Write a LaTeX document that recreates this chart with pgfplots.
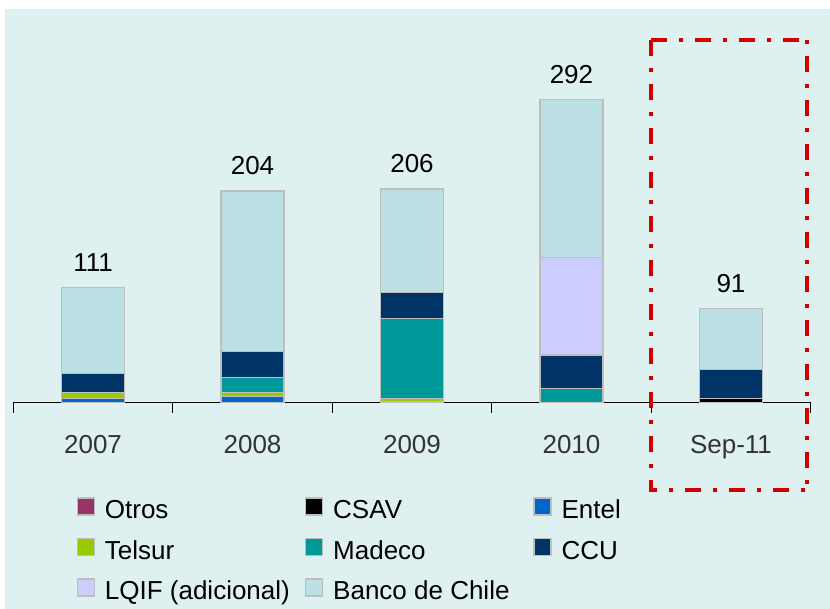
\documentclass[border=0pt]{standalone}
\usepackage{fontspec}
\setmainfont{Liberation Sans}
\usepackage{pgfplots}
\usepackage{pgfplotstable}
\pgfplotsset{compat=1.18}
\definecolor{bgc}{RGB}{223,240,240}
\definecolor{cOtros}{HTML}{993366}
\definecolor{cCSAV}{HTML}{000000}
\definecolor{cEntel}{HTML}{0066CC}
\definecolor{cTelsur}{HTML}{99CC00}
\definecolor{cMadeco}{HTML}{009999}
\definecolor{cCCU}{HTML}{003366}
\definecolor{cLQIF}{HTML}{CCCCFF}
\definecolor{cBanco}{HTML}{BBE0E3}
\definecolor{edgec}{HTML}{BEBEBE}
\definecolor{redc}{HTML}{D00000}
\definecolor{tgray}{HTML}{333333}
\newcommand{\fs}{\fontsize{26pt}{31pt}\selectfont}
\newcommand{\ls}[1]{\makebox[190pt][l]{\rule[-7pt]{0pt}{33pt}#1}}
\pgfplotstableread{
x otros csav entel telsur madeco ccu lqif banco total top
0 0 0 4 6 0 18 0 83 111 0.01
1 0 0 6 4 14 25 0 155 204 0.01
2 0 0 1 3 77 25 0 100 206 0.01
3 0 0 0 0 14 32 94 152 292 0.01
4 0 4 0 0 0 28 0 59 91 0.01
}\data
\pgfplotsset{seg/.style={fill=#1, draw=edgec, line width=1.3pt,
  legend image code/.code={\draw[##1, line width=1.3pt] (0pt,-8.5pt) rectangle (17pt,8.5pt);}}}
\begin{document}
\begin{tikzpicture}
\useasboundingbox (0,0) rectangle (830pt,609pt);
\fill[white] (0,0) rectangle (830pt,609pt);
\fill[bgc] (5pt,0) rectangle (830pt,600pt);
\begin{axis}[
  at={(13.3pt,206.3pt)}, anchor=south west,
  scale only axis, width=797.4pt, height=363.2pt,
  xmin=-0.5, xmax=4.5, ymin=0, ymax=350,
  ybar stacked, bar width=63pt,
  hide y axis,
  axis x line=bottom, x axis line style={-, black, line width=1pt},
  xtick={0,...,4}, xticklabels={2007,2008,2009,2010,Sep-11},
  minor xtick={-0.5,0.5,...,4.5},
  major tick length=0pt, minor tick length=10pt, tick align=outside,
  minor tick style={black, line width=1pt},
  xticklabel style={font=\fs, text=tgray, anchor=base, yshift=-51.3pt},
  clip=false,
  legend columns=3,
  legend style={draw=none, fill=none, inner sep=0pt, outer sep=0pt,
    at={(0.0794,-0.2422)}, anchor=north west, font=\fs,
    column sep=8pt, row sep=9pt, cells={anchor=west}},
]
\addplot[seg=cOtros] table[x=x,y=otros]{\data}; \addlegendentry{\ls{Otros}}
\addplot[seg=cCSAV] table[x=x,y=csav]{\data}; \addlegendentry{\ls{CSAV}}
\addplot[seg=cEntel] table[x=x,y=entel]{\data}; \addlegendentry{\ls{Entel}}
\addplot[seg=cTelsur] table[x=x,y=telsur]{\data}; \addlegendentry{\ls{Telsur}}
\addplot[seg=cMadeco] table[x=x,y=madeco]{\data}; \addlegendentry{\ls{Madeco}}
\addplot[seg=cCCU] table[x=x,y=ccu]{\data}; \addlegendentry{\ls{CCU}}
\addplot[seg=cLQIF] table[x=x,y=lqif]{\data}; \addlegendentry{\ls{LQIF (adicional)}}
\addplot[seg=cBanco] table[x=x,y=banco]{\data}; \addlegendentry{\ls{Banco de Chile}}
\addplot[draw=none, fill=none, forget plot, nodes near coords, point meta=explicit symbolic,
  every node near coord/.append style={font=\fs, text=black, anchor=base, yshift=16pt}]
  table[x=x,y=top,meta=total]{\data};
\draw[redc, line width=4pt, dash pattern=on 16pt off 12pt on 4pt off 12pt]
  (axis cs:3.5,349.5) -- (axis cs:4.477,349.5);
\draw[redc, line width=4pt, dash pattern=on 16pt off 12pt on 4pt off 12pt]
  (axis cs:3.5,349.5) -- (axis cs:3.5,-84.1) -- (axis cs:4.477,-84.1);
\draw[redc, line width=4pt, dash pattern=on 4pt off 12pt on 16pt off 12pt]
  (axis cs:4.477,349.5) -- (axis cs:4.477,-84.1);
\end{axis}
\end{tikzpicture}
\end{document}
